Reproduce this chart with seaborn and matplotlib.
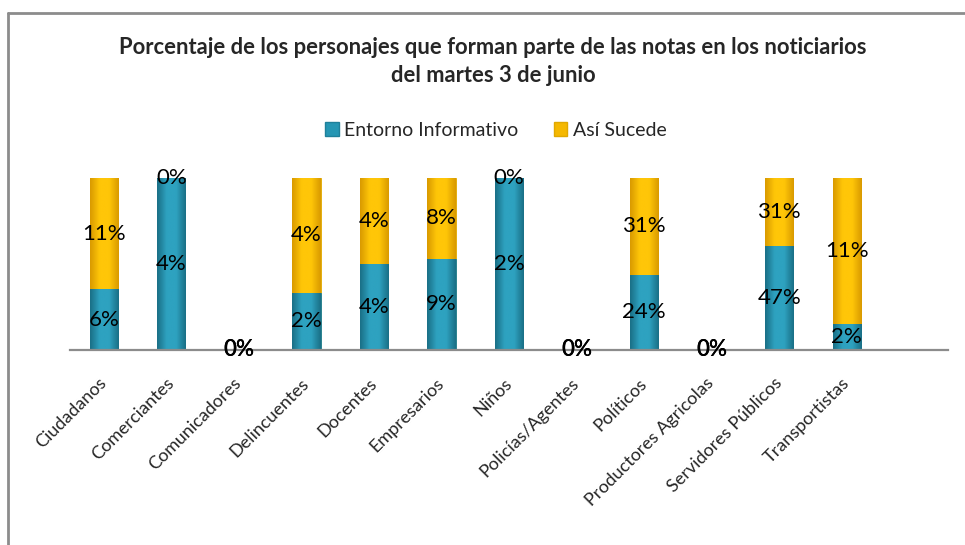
import numpy as np
import pandas as pd
import seaborn as sns
import matplotlib.pyplot as plt
from matplotlib.lines import Line2D
from matplotlib.patches import Patch
from matplotlib.colors import LinearSegmentedColormap

categorias = ["Ciudadanos", "Comerciantes", "Comunicadores", "Delincuentes", "Docentes",
              "Empresarios", "Niños", "Policías/Agentes", "Políticos",
              "Productores Agricolas", "Servidores Públicos", "Transportistas"]
entorno = [6, 4, 0, 2, 4, 9, 2, 0, 24, 0, 47, 2]
asi_sucede = [11, 0, 0, 4, 4, 8, 0, 0, 31, 0, 31, 11]

azul = "#2596b3"
oro = "#f5b800"

sns.set_theme(style="white")
plt.rcParams['font.family'] = ['Lato', 'DejaVu Sans']

df = pd.DataFrame({"cat": categorias, "e": entorno, "a": asi_sucede})
df["total"] = df["e"] + df["a"]
# 100% apilado: parte de cada serie dentro de la categoria
df["pe"] = np.where(df["total"] > 0, df["e"] / df["total"].replace(0, 1), 0)
df["pt"] = np.where(df["total"] > 0, 1.0, 0)

fig = plt.figure(figsize=(9.65, 5.45), dpi=100)
ax = fig.add_axes([70/965, (545-350)/545, (948-70)/965, 172/545])

sns.barplot(data=df, x="cat", y="pt", color=oro, width=0.42, saturation=1,
            edgecolor="#e0a800", linewidth=0.6, ax=ax)
n_oro = len(ax.patches)
sns.barplot(data=df, x="cat", y="pe", color=azul, width=0.42, saturation=1,
            edgecolor="#1f809a", linewidth=0.6, ax=ax)

# sombreado tipo bisel sobre las barras
cm_oro = LinearSegmentedColormap.from_list("o", ["#d99a00", "#ffc608", "#ffc608", "#d99a00"])
cm_azul = LinearSegmentedColormap.from_list("a", ["#1a6f86", "#2ea2c0", "#2ea2c0", "#1a6f86"])
grad = np.linspace(0, 1, 64).reshape(1, -1)
for k, p in enumerate(list(ax.patches)):
    if p.get_height() <= 0:
        continue
    x0, y0 = p.get_x(), p.get_y()
    cmap = cm_oro if k < n_oro else cm_azul
    im = ax.imshow(grad, cmap=cmap, aspect="auto",
                   extent=(x0, x0 + p.get_width(), y0, y0 + p.get_height()),
                   zorder=p.get_zorder(), interpolation="bicubic")
    im.set_clip_path(p)

# etiquetas de datos
for i, row in df.iterrows():
    pe = row["pe"]
    pt = row["pt"]
    peso = "semibold" if row["total"] == 0 else "normal"
    ax.text(i, pe / 2, f"{row['e']}%", ha="center", va="center", fontsize=16,
            color="black", clip_on=False, zorder=8, fontweight=peso)
    ax.text(i, pe + (pt - pe) / 2, f"{row['a']}%", ha="center", va="center",
            fontsize=16, color="black", clip_on=False, zorder=8, fontweight=peso)

ax.set_xlim(-0.5, 12.5)
ax.set_ylim(0, 1)
ax.set_xlabel("")
ax.set_ylabel("")
ax.set_yticks([])
for s in ["top", "right", "left"]:
    ax.spines[s].set_visible(False)
ax.spines["bottom"].set_color("#8c8c8c")
ax.spines["bottom"].set_linewidth(1.6)
ax.spines["bottom"].set_zorder(6)
ax.tick_params(axis="x", length=0, pad=22)
ax.set_xticks(range(len(categorias)))
ax.set_xticklabels(categorias, rotation=45, ha="right", va="center",
                   rotation_mode="anchor", fontsize=13)

fig.text(493/965, 1 - 48/545, "Porcentaje de los personajes que forman parte de las notas en los noticiarios",
         ha="center", va="center", fontsize=15.8, fontweight="bold")
fig.text(493/965, 1 - 75/545, "del martes 3 de junio",
         ha="center", va="center", fontsize=15.8, fontweight="bold")

handles = [Patch(facecolor=azul, edgecolor="#1f809a", label="Entorno Informativo"),
           Patch(facecolor=oro, edgecolor="#e0a800", label="Así Sucede")]
fig.legend(handles=handles, loc="center", bbox_to_anchor=(496/965, 1 - 130/545),
           ncol=2, frameon=False, fontsize=14, handlelength=0.7, handleheight=0.7,
           handletextpad=0.3, columnspacing=1.8)

# borde del grafico
fig.add_artist(Line2D([8/965, 1], [1 - 13/545, 1 - 13/545], color="#8c8c8c", lw=2))
fig.add_artist(Line2D([8/965, 8/965], [0, 1 - 13/545], color="#8c8c8c", lw=2))

fig.savefig("out.png", dpi=100)
